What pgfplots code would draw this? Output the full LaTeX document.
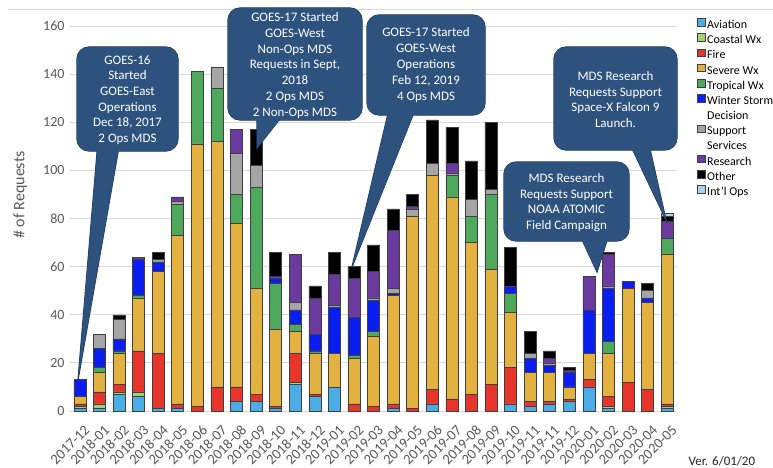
\documentclass[border=0pt]{standalone}
\usepackage{pgfplots}
\pgfplotsset{compat=1.18}
\usepackage{pgfplotstable}
\usepackage{fontspec}
\setmainfont{Carlito}
\definecolor{cAv}{HTML}{4BADE6}
\definecolor{cCo}{HTML}{9FD46C}
\definecolor{cFi}{HTML}{E8352B}
\definecolor{cSe}{HTML}{E2B13F}
\definecolor{cTr}{HTML}{4EA95C}
\definecolor{cWi}{HTML}{0A1EF2}
\definecolor{cSu}{HTML}{A5A5A5}
\definecolor{cRe}{HTML}{6B3A9E}
\definecolor{cOt}{HTML}{000000}
\definecolor{cIo}{HTML}{A8D3F4}
\definecolor{callfill}{HTML}{2D527E}
\definecolor{callline}{HTML}{1E3A5C}
\definecolor{txtgray}{HTML}{595959}
\definecolor{gridgray}{HTML}{D9D9D9}

\pgfplotstableread{
x  av co fi se  tr wi su re ot io
0  1  1  1  3   0  7  0  0  0  0
1  1  2  5  8   2  8  6  0  0  0
2  7  1  3  13  1  5  8  0  2  0
3  6  2  17 22  1  15 0  1  0  0
4  1  0  23 34  0  4  1  0  3  0
5  1  0  2  70  13 0  1  2  0  0
6  0  0  2  109 30 0  0  0  0  0
7  0  0  10 102 22 0  9  0  0  0
8  4  0  6  68  12 0  17 10 0  0
9  4  0  3  44  42 0  9  0  15 0
10 1  0  1  32  19 2  0  1  10 0
11 11 1  12 9   3  6  3  20 0  0
12 6  0  1  17  1  7  0  15 5  0
13 10 0  0  14  0  19 1  13 9  0
14 0  0  3  19  1  16 0  16 5  0
15 0  0  2  29  2  13 1  11 11 0
16 1  0  2  45  0  1  2  24 9  0
17 0  0  1  80  0  0  3  1  5  0
18 3  0  6  89  0  0  5  0  18 0
19 0  0  5  84  9  0  1  4  15 0
20 0  0  7  63  11 0  7  0  16 0
21 0  0  11 48  31 0  2  0  28 0
22 3  0  15 23  8  3  0  0  16 0
23 2  0  2  12  0  6  2  0  9  0
24 3  0  1  12  0  3  1  2  3  0
25 4  0  1  5   0  6  0  1  1  0
26 10 0  3  11  0  18 0  14 0  0
27 1  1  4  18  5  22 1  13 1  0
28 0  0  12 39  0  3  0  0  0  0
29 0  0  9  36  0  2  3  0  3  0
30 1  1  1  62  7  0  0  7  2  1
}\data

\pgfplotsset{
  sq/.style={fill=#1, draw=black!75, line width=0.5pt,
    legend image code/.code={\draw[fill=#1, draw=black!75, line width=0.5pt] (0pt,0pt) rectangle (7.5pt,7.5pt);}},
}

\newcommand{\callout}[8]{%
  \draw[callline, fill=callfill, line width=1.2pt, rounded corners=12pt] (#1,#2) rectangle (#3,#4);
  \draw[callline, fill=callfill, line width=1.2pt] (#5,#2+10) -- (#7,#8) -- (#6,#2+10) -- cycle;
  \fill[callfill, rounded corners=12pt] (#1,#2) rectangle (#3,#4);
  \fill[callfill] (#5,#2+10) -- (#7,#8) -- (#6,#2+10) -- cycle;
}

\begin{document}
\begin{tikzpicture}
\useasboundingbox (0pt,0pt) rectangle (773pt,467pt);
\fill[white] (0pt,0pt) rectangle (773pt,467pt);
\draw[gridgray, line width=0.6pt] (8pt,458pt) -- (773pt,458pt);
\begin{axis}[
  at={(70pt,56pt)}, anchor=south west,
  scale only axis, width=607pt, height=385pt,
  ybar stacked, bar width=12pt,
  xmin=-0.5, xmax=30.5, ymin=0, ymax=160,
  ytick={0,20,...,160},
  xtick={0,...,30},
  xticklabels={2017-12,2018-01,2018-02,2018-03,2018-04,2018-05,2018-06,2018-07,2018-08,2018-09,2018-10,2018-11,2018-12,2019-01,2019-02,2019-03,2019-04,2019-05,2019-06,2019-07,2019-08,2019-09,2019-10,2019-11,2019-11,2019-12,2020-01,2020-02,2020-03,2020-04,2020-05},
  axis line style={draw=none},
  major tick style={draw=none},
  ymajorgrids, grid style={gridgray, line width=0.8pt},
  /pgf/number format/assume math mode=true,
  yticklabel style={font=\fontsize{14}{16}\selectfont, text=txtgray, xshift=-2pt},
  xticklabel shift=13pt,
  xticklabel style={font=\fontsize{14.5}{16}\selectfont, text=txtgray, rotate=45, anchor=north east, inner sep=0pt, xshift=2.8pt, yshift=-2.8pt},
  ylabel={\# of Requests},
  ylabel style={font=\fontsize{16}{18}\selectfont, text=txtgray, at={(axis description cs:-0.082,0.561)}, anchor=center},
  legend cell align=left,
  legend style={at={(1.033,1.021)}, anchor=north west, draw=none, fill=none,
    font=\fontsize{12}{14}\selectfont, row sep=0pt, inner sep=0pt,
    nodes={inner ysep=0pt, inner xsep=2pt, text height=10pt, text depth=5pt}},
]
\addplot[sq=cAv] table[x=x,y=av]{\data}; \addlegendentry{Aviation}
\addplot[sq=cCo] table[x=x,y=co]{\data}; \addlegendentry{Coastal Wx}
\addplot[sq=cFi] table[x=x,y=fi]{\data}; \addlegendentry{Fire}
\addplot[sq=cSe] table[x=x,y=se]{\data}; \addlegendentry{Severe Wx}
\addplot[sq=cTr] table[x=x,y=tr]{\data}; \addlegendentry{Tropical Wx}
\addplot[sq=cWi] table[x=x,y=wi]{\data}; \addlegendentry{Winter Storm}
\addlegendimage{empty legend}\addlegendentry{Decision}
\addplot[sq=cSu] table[x=x,y=su]{\data}; \addlegendentry{Support}
\addlegendimage{empty legend}\addlegendentry{Services}
\addplot[sq=cRe] table[x=x,y=re]{\data}; \addlegendentry{Research}
\addplot[sq=cOt] table[x=x,y=ot]{\data}; \addlegendentry{Other}
\addplot[sq=cIo] table[x=x,y=io]{\data}; \addlegendentry{Int'l Ops}
\end{axis}
\begin{scope}[x=1pt,y=1pt]
\callout{77}{316}{178}{420}{98}{120}{78}{87}
\node[text=white, align=center, font=\fontsize{13}{15.6}\selectfont] at (127.5,367) {GOES-16\\Started\\GOES-East\\Operations\\Dec 18, 2017\\2 Ops MDS};
\callout{228}{347}{362}{459}{257}{287}{257}{319}
\node[text=white, align=center, font=\fontsize{13}{15.8}\selectfont] at (295,401.5) {GOES-17 Started\\GOES-West\\Non-Ops MDS\\Requests in Sept,\\2018\\2 Ops MDS\\2 Non-Ops MDS};
\callout{367}{352}{485}{452}{390}{417}{352}{200}
\node[text=white, align=center, font=\fontsize{13}{16}\selectfont] at (426,401.5) {GOES-17 Started\\GOES-West\\Operations\\Feb 12, 2019\\4 Ops MDS};
\callout{504}{226}{629}{305}{578}{610}{597}{195}
\node[text=white, align=center, font=\fontsize{13}{15.6}\selectfont] at (566.5,264.5) {MDS Research\\Requests Support\\NOAA ATOMIC\\Field Campaign};
\callout{554}{317}{677}{420}{628}{648}{666}{247}
\node[text=white, align=center, font=\fontsize{13}{15.6}\selectfont] at (615.5,367.5) {MDS Research\\Requests Support\\Space-X Falcon 9\\Launch.};
\node[anchor=base west, font=\fontsize{13}{15}\selectfont, text=black!85] at (685,2) {Ver. 6/01/20};
\end{scope}
\end{tikzpicture}
\end{document}
